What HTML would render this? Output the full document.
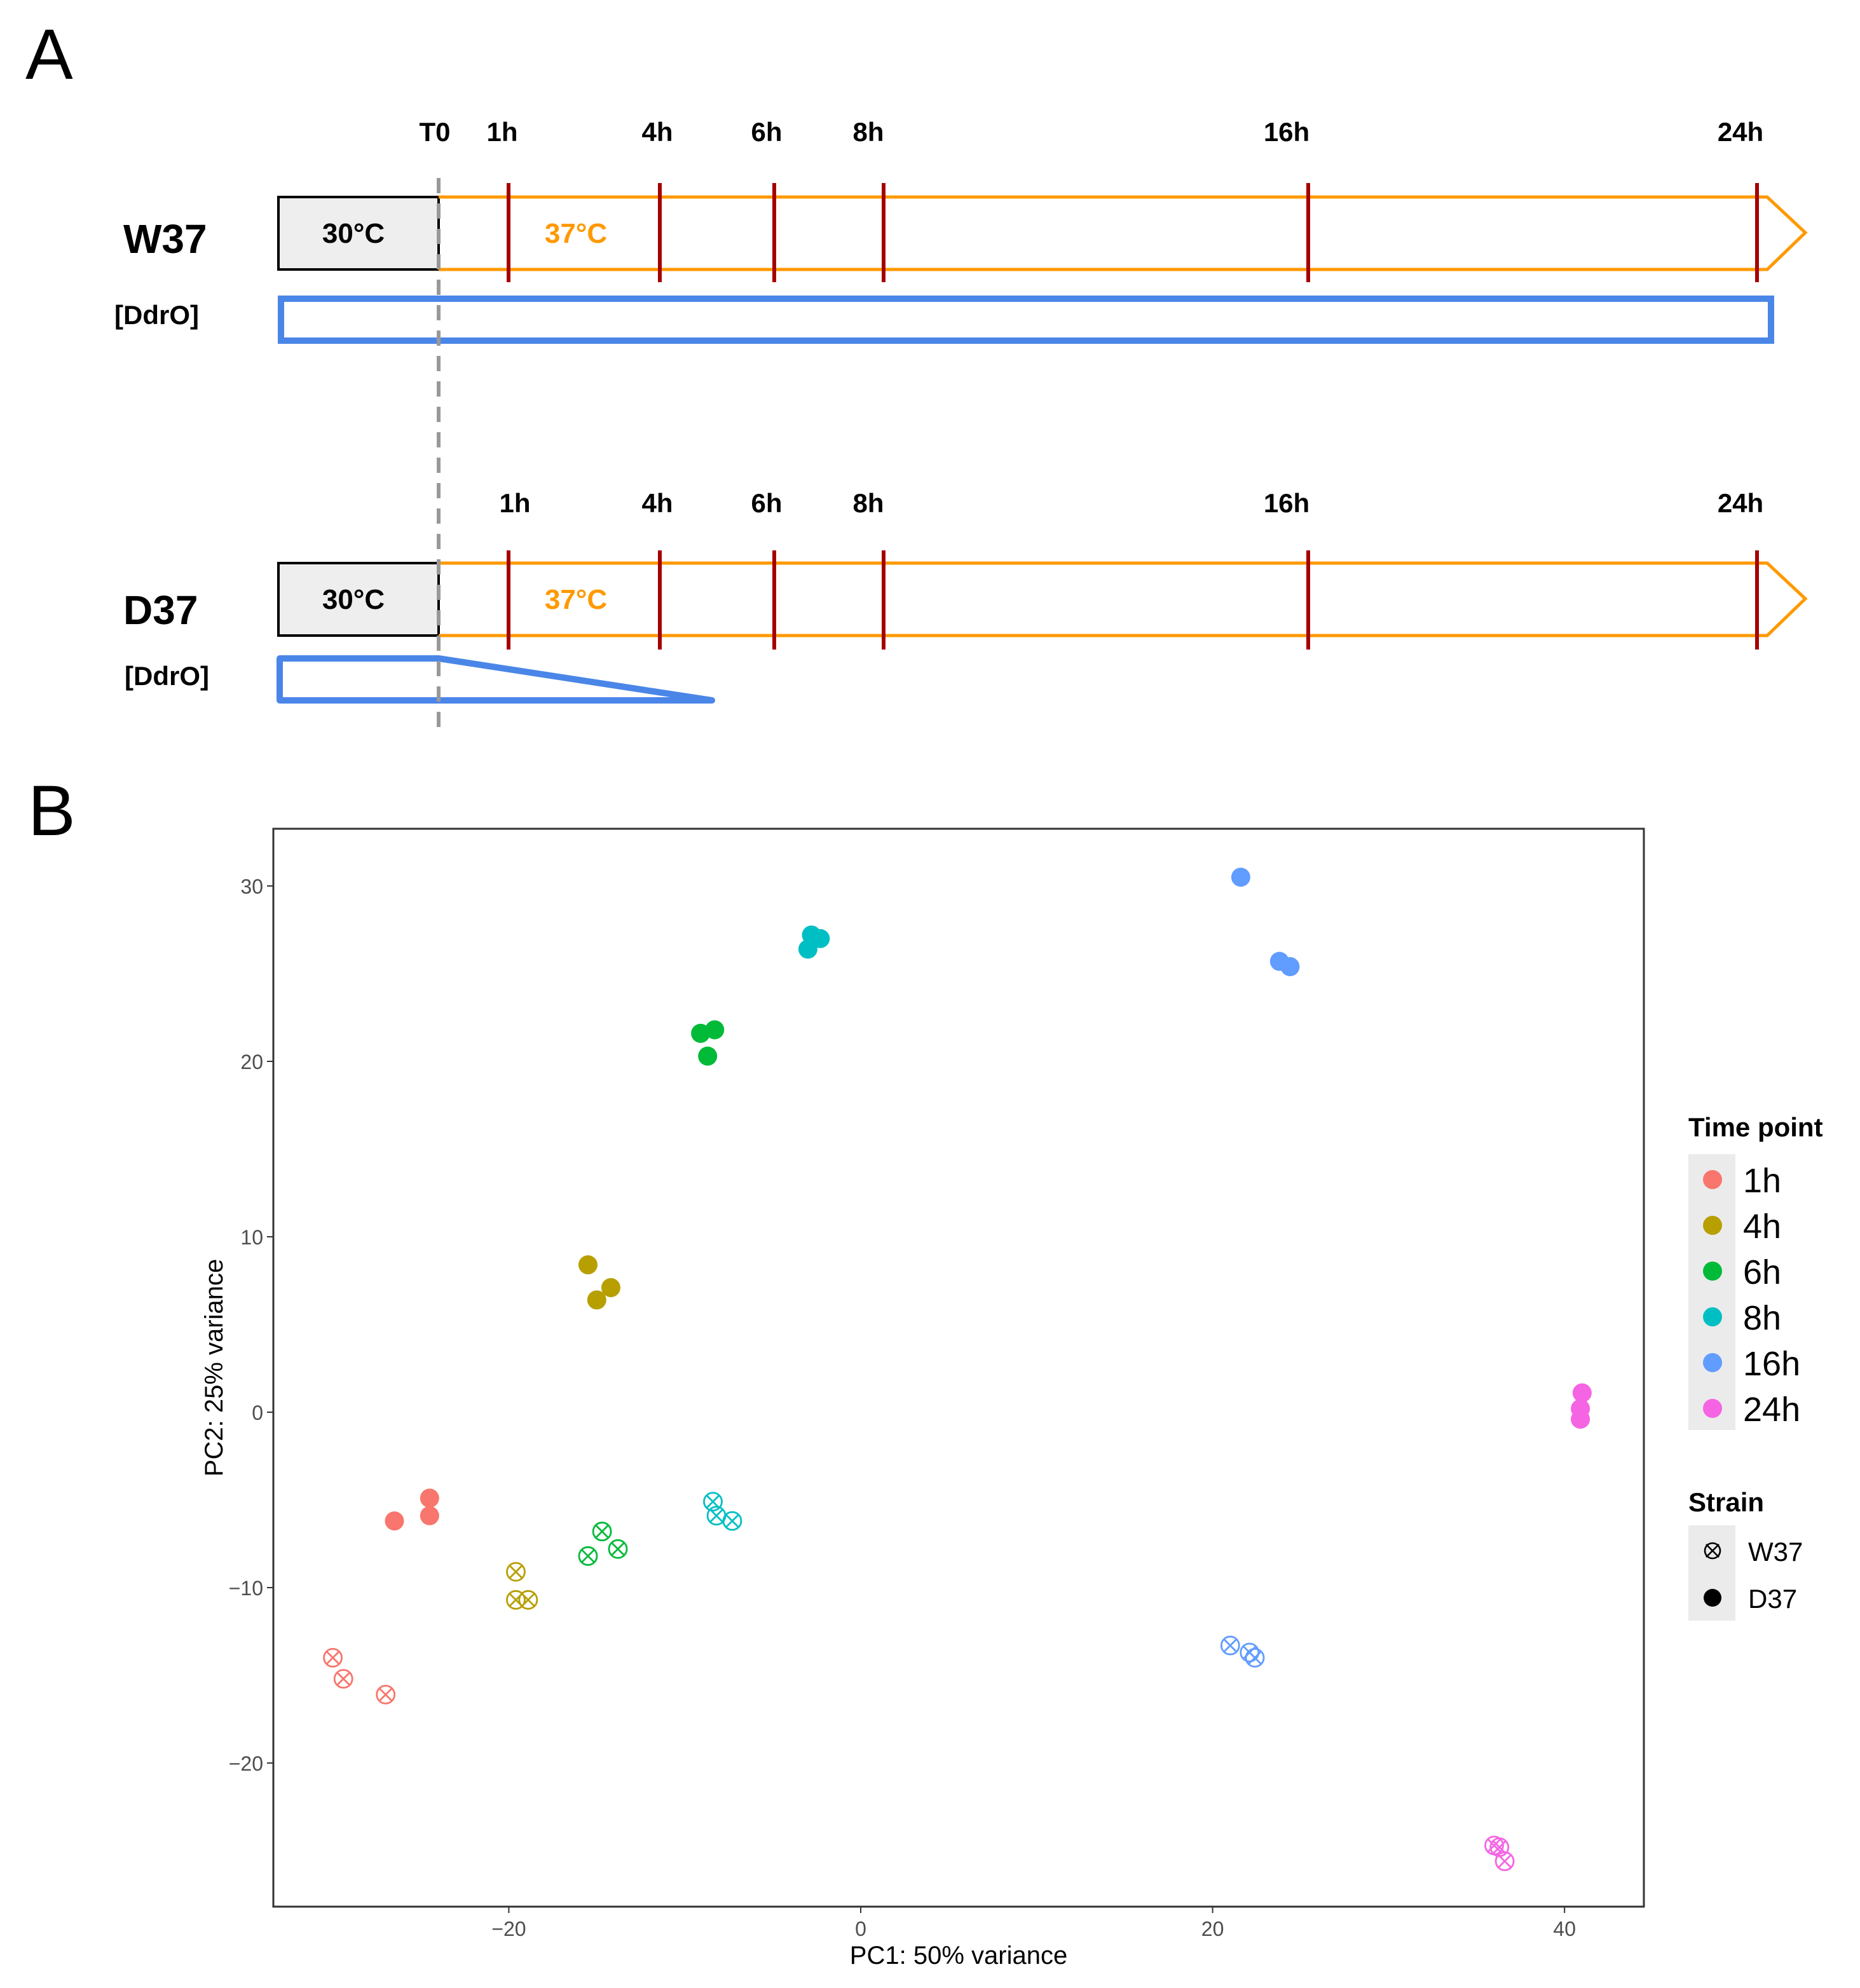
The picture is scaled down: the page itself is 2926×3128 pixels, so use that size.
<!DOCTYPE html>
<html><head><meta charset="utf-8"><style>html,body{margin:0;padding:0;background:#fff}svg{display:block}</style></head>
<body>
<svg width="2926" height="3128" viewBox="0 0 1463 1564" xmlns="http://www.w3.org/2000/svg" font-family="Liberation Sans, sans-serif">
<text x="20" y="62" font-size="56">A</text>
<g>
 <g font-weight="bold" font-size="21" text-anchor="middle">
  <text x="342" y="111">T0</text><text x="395" y="111">1h</text><text x="517" y="111">4h</text><text x="603" y="111">6h</text><text x="683" y="111">8h</text><text x="1012" y="111">16h</text><text x="1369" y="111">24h</text>
 </g>
 <text x="97" y="199" font-size="32" font-weight="bold">W37</text>
 <text x="90" y="255" font-size="21" font-weight="bold">[DdrO]</text>
 <rect x="219" y="155" width="126" height="57" fill="#eeeeee" stroke="#000" stroke-width="2"/>
 <text x="278" y="191" font-size="22" font-weight="bold" text-anchor="middle">30°C</text>
 <polyline points="345,155 1390,155 1420,183 1390,212 345,212" fill="none" stroke="#ff9900" stroke-width="2.5"/>
 <text x="453" y="191" font-size="22" font-weight="bold" fill="#ff9900" text-anchor="middle">37°C</text>
 <g stroke="#a50000" stroke-width="3"><line x1="400" y1="144" x2="400" y2="222"/><line x1="519" y1="144" x2="519" y2="222"/><line x1="609" y1="144" x2="609" y2="222"/><line x1="695" y1="144" x2="695" y2="222"/><line x1="1029" y1="144" x2="1029" y2="222"/><line x1="1382" y1="144" x2="1382" y2="222"/></g>
 <rect x="221" y="235" width="1172" height="33" fill="none" stroke="#4a86e8" stroke-width="5"/>
</g>
<g>
 <g font-weight="bold" font-size="21" text-anchor="middle">
  <text x="405" y="403">1h</text><text x="517" y="403">4h</text><text x="603" y="403">6h</text><text x="683" y="403">8h</text><text x="1012" y="403">16h</text><text x="1369" y="403">24h</text>
 </g>
 <text x="97" y="491" font-size="32" font-weight="bold">D37</text>
 <text x="98" y="539" font-size="21" font-weight="bold">[DdrO]</text>
 <rect x="219" y="443" width="126" height="57" fill="#eeeeee" stroke="#000" stroke-width="2"/>
 <text x="278" y="479" font-size="22" font-weight="bold" text-anchor="middle">30°C</text>
 <polyline points="345,443 1390,443 1420,471 1390,500 345,500" fill="none" stroke="#ff9900" stroke-width="2.5"/>
 <text x="453" y="479" font-size="22" font-weight="bold" fill="#ff9900" text-anchor="middle">37°C</text>
 <g stroke="#a50000" stroke-width="3"><line x1="400" y1="433" x2="400" y2="511"/><line x1="519" y1="433" x2="519" y2="511"/><line x1="609" y1="433" x2="609" y2="511"/><line x1="695" y1="433" x2="695" y2="511"/><line x1="1029" y1="433" x2="1029" y2="511"/><line x1="1382" y1="433" x2="1382" y2="511"/></g>
 <polygon points="220,518 345,518 560,551 220,551" fill="none" stroke="#4a86e8" stroke-width="5" stroke-linejoin="round"/>
</g>
<line x1="345" y1="140" x2="345" y2="575" stroke="#999" stroke-width="3" stroke-dasharray="12,8"/>
<text x="22" y="657" font-size="56">B</text>
<g id="plot"></g>
<g>
 <text x="1328" y="894" font-size="21" font-weight="bold">Time point</text>
 <rect x="1328" y="908" width="37" height="217" fill="#ebebeb"/>
 <g id="leg1"></g>
 <text x="1328" y="1189" font-size="21" font-weight="bold">Strain</text>
 <rect x="1328" y="1200" width="37" height="75" fill="#ebebeb"/>
 <g fill="none" stroke="#000" stroke-width="1.3"><circle cx="1347" cy="1220" r="6"/><line x1="1342" y1="1215" x2="1352" y2="1225"/><line x1="1352" y1="1215" x2="1342" y2="1225"/></g>
 <text x="1375" y="1228" font-size="21">W37</text>
 <circle cx="1347" cy="1257" r="7" fill="#000"/>
 <text x="1375" y="1265" font-size="21">D37</text>
</g>
<script>
const timepoints=["1h","4h","6h","8h","16h","24h"];
const colors=["#F8766D","#B79F00","#00BA38","#00BFC4","#619CFF","#F564E3"];
const d37PC1=[[-24.5,-24.5,-26.5],[-15.5,-14.2,-15],[-9.1,-8.3,-8.7],[-2.8,-2.3,-3],[21.6,23.8,24.4],[41,40.9,40.9]];
const d37PC2=[[-4.9,-5.9,-6.2],[8.4,7.1,6.4],[21.6,21.8,20.3],[27.2,27,26.4],[30.5,25.7,25.4],[1.1,0.2,-0.4]];
const w37PC1=[[-30,-29.4,-27],[-19.6,-19.6,-18.9],[-15.5,-14.7,-13.8],[-8.4,-8.2,-7.3],[21,22.1,22.4],[36,36.3,36.6]];
const w37PC2=[[-14,-15.2,-16.1],[-9.1,-10.7,-10.7],[-8.2,-6.8,-7.8],[-5.1,-5.9,-6.2],[-13.3,-13.7,-14],[-24.7,-24.8,-25.6]];
const xTicks=[-20,0,20,40];
const yTicks=[-20,-10,0,10,20,30];
const NS="http://www.w3.org/2000/svg";
const X=v=>677+v*13.84, Y=v=>1111-v*13.8;
const g=document.getElementById('plot');
function mk(t,a,p){const e=document.createElementNS(NS,t);for(const k in a)e.setAttribute(k,a[k]);(p||g).appendChild(e);return e;}
const box=mk('rect',{x:215,y:652,width:1078,height:848,fill:'none',stroke:'#333','stroke-width':1.5});


xTicks.forEach(v=>{mk('line',{x1:X(v),x2:X(v),y1:1500,y2:1505,stroke:'#333'});
 const t=mk('text',{x:X(v),y:1523,'font-size':16,fill:'#4d4d4d','text-anchor':'middle'});t.textContent=v<0?'\u2212'+(-v):v;
 
 });
yTicks.forEach(v=>{mk('line',{x1:210,x2:215,y1:Y(v),y2:Y(v),stroke:'#333'});
 const t=mk('text',{x:207,y:Y(v)+6,'font-size':16,fill:'#4d4d4d','text-anchor':'end'});t.textContent=v<0?'\u2212'+(-v):v;
 
 });
const xt=mk('text',{x:754,y:1545,'font-size':20,'text-anchor':'middle'});xt.textContent='PC1: 50% variance';


const yt=mk('text',{x:0,y:0,'font-size':20,'text-anchor':'middle',transform:'translate(175,1076) rotate(-90)'});yt.textContent='PC2: 25% variance';


timepoints.forEach((tp,i)=>{
 for(let j=0;j<3;j++){
  const c=mk('circle',{cx:X(d37PC1[i][j]),cy:Y(d37PC2[i][j]),r:7.5,fill:colors[i]});
  
  
  const x=X(w37PC1[i][j]),y=Y(w37PC2[i][j]);
  const w=mk('g',{fill:'none',stroke:colors[i],'stroke-width':1.4});
  
  
  mk('circle',{cx:x,cy:y,r:7},w);mk('line',{x1:x-5,y1:y-5,x2:x+5,y2:y+5},w);mk('line',{x1:x+5,y1:y-5,x2:x-5,y2:y+5},w);
 }
 const lg=document.getElementById('leg1');
 const cy=928+i*36;
 const lc=mk('circle',{cx:1347,cy:cy,r:7.5,fill:colors[i]},lg);
 
 
 const lt=mk('text',{x:1371,y:cy+10,'font-size':27},lg);lt.textContent=tp;
 
 
});
</script>
</svg>
</body></html>
